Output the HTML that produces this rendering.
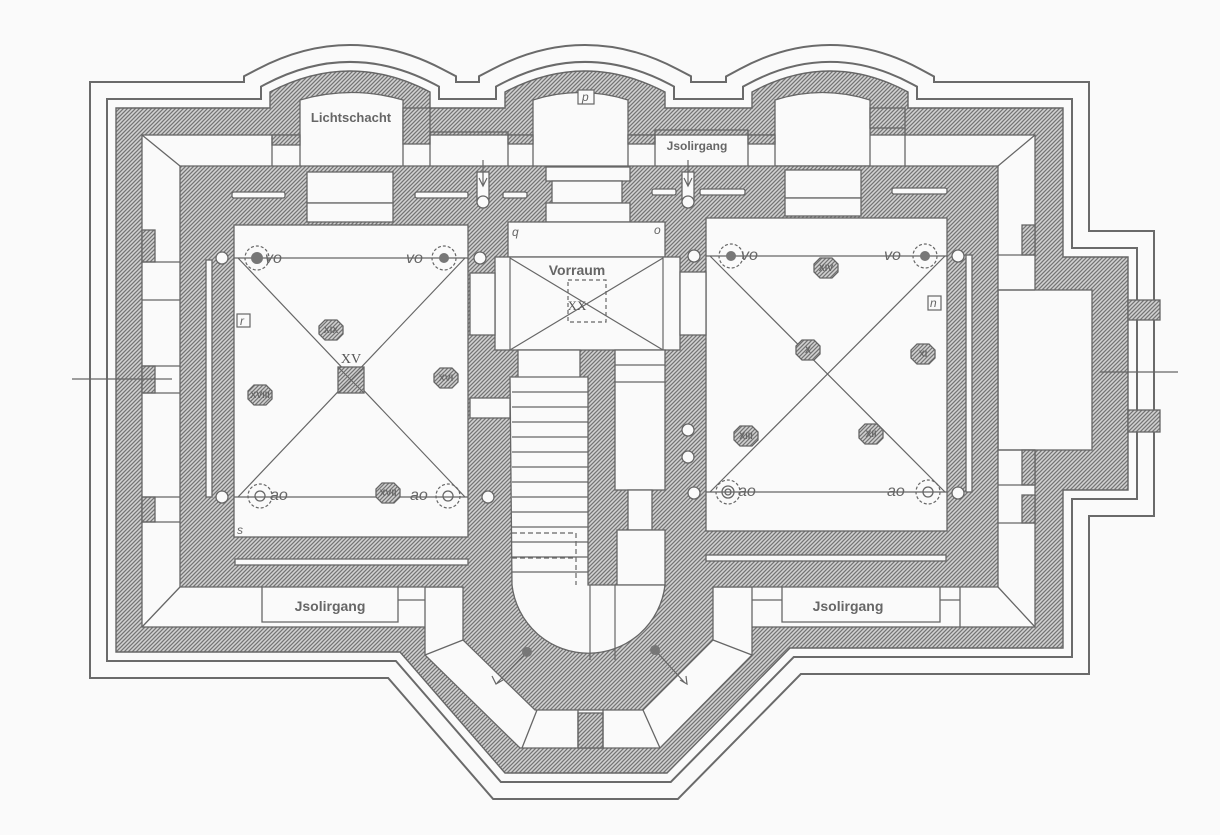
<!DOCTYPE html>
<html><head><meta charset="utf-8"><style>
html,body{margin:0;padding:0;background:#fafafa}
svg{display:block}
text{font-family:"Liberation Sans",sans-serif;fill:#666}
.s{font-family:"Liberation Serif",serif;font-style:italic}
</style></head><body>
<svg width="1220" height="835" viewBox="0 0 1220 835" xmlns="http://www.w3.org/2000/svg">
<defs>
<pattern id="h" patternUnits="userSpaceOnUse" width="4" height="4">
<rect width="4" height="4" fill="#d2d2d2"/>
<path d="M-1,1 L1,-1 M0,4 L4,0 M3,5 L5,3" stroke="#747474" stroke-width="1.3"/>
</pattern>
<path id="o" d="M116,108 L270,108 L270,92 Q350,50 430,92 L430,108 L505,108 L505,92 Q585,50 665,92 L665,108 L752,108 L752,92 Q830,50 908,92 L908,108 L1063,108 L1063,257 L1128,257 L1128,490 L1063,490 L1063,648 L790,648 L667,773 L505,773 L400,652 L116,652 Z"/>
</defs>
<rect width="1220" height="835" fill="#fafafa"/>
<g fill="none" stroke-linejoin="miter" stroke-miterlimit="10">
<use href="#o" stroke="#6a6a6a" stroke-width="54"/>
<use href="#o" stroke="#fafafa" stroke-width="50"/>
<use href="#o" stroke="#6a6a6a" stroke-width="20"/>
<use href="#o" stroke="#fafafa" stroke-width="16"/>
</g>
<use href="#o" fill="url(#h)" stroke="#666" stroke-width="1.4"/>
<g fill="url(#h)" stroke="#666" stroke-width="1.3">
<rect x="1128" y="300" width="32" height="20"/><rect x="1128" y="410" width="32" height="22"/>
</g>
<g fill="#fafafa" stroke="#666" stroke-width="1.3">
<rect x="142" y="135" width="893" height="492"/>
<path d="M300,168 L300,100 Q352,85 403,100 L403,168 Z"/>
<path d="M533,168 L533,100 Q580,85 628,100 L628,168 Z"/>
<path d="M775,166 L775,100 Q822,85 870,100 L870,166 Z"/>
<path d="M425,587 L752,587 L752,655 L660,748 L520,748 L425,655 Z"/>
<rect x="998" y="290" width="94" height="160"/>
</g>
<g fill="url(#h)" stroke="#666" stroke-width="1.3">
<path d="M180,166 L998,166 L998,587 L713,587 L713,640 L643,710 L535,710 L463,640 L463,587 L180,587 Z"/>
<rect x="272" y="135" width="28" height="10"/><rect x="403" y="108" width="27" height="36"/>
<rect x="508" y="135" width="25" height="9"/><rect x="628" y="135" width="27" height="9"/>
<rect x="748" y="135" width="27" height="9"/><rect x="870" y="108" width="35" height="20"/>
<rect x="142" y="230" width="13" height="32"/><rect x="142" y="366" width="13" height="27"/>
<rect x="142" y="497" width="13" height="25"/>
<rect x="1022" y="225" width="13" height="30"/><rect x="1022" y="450" width="13" height="35"/>
<rect x="1022" y="495" width="13" height="28"/>
<rect x="578" y="713" width="25" height="35"/>
</g>
<g stroke="#666" stroke-width="1.3" fill="none">
<path d="M142,135 L180,166 M1035,135 L998,166 M142,627 L180,587 M1035,627 L998,587"/>
<path d="M272,135 V166 M430,132 H508 V166 M430,132 V166 M655,130 H748 V166 M655,130 V166 M905,128 V166"/>
<path d="M142,262 H180 M142,300 H180 M142,366 H180 M142,393 H180 M142,497 H180 M142,522 H180"/>
<path d="M998,255 H1035 M998,290 H1035 M998,450 H1035 M998,485 H1035 M998,523 H1035"/>
<path d="M262,587 V622 H398 V587 M398,600 H425 M782,587 V622 H940 V587 M752,600 H782 M940,600 H960 M960,587 V627"/>
<path d="M425,655 L463,640 M752,655 L713,640 M537,710 L522,748 M578,710 V748 M603,710 V748 M643,710 L660,748"/>
</g>
<g fill="#fafafa" stroke="#666" stroke-width="1.3">
<rect x="234" y="225" width="234" height="312"/>
<rect x="706" y="218" width="241" height="313"/>
<rect x="307" y="172" width="86" height="31"/><rect x="307" y="203" width="86" height="19"/>
<rect x="785" y="170" width="76" height="28"/><rect x="785" y="198" width="76" height="18"/>
<rect x="546" y="167" width="84" height="14"/><rect x="552" y="181" width="70" height="22"/><rect x="546" y="203" width="84" height="19"/>
<rect x="508" y="222" width="157" height="35"/>
<rect x="495" y="257" width="185" height="93"/>
<rect x="470" y="273" width="25" height="62"/><rect x="470" y="398" width="40" height="20"/>
<rect x="680" y="272" width="26" height="63"/>
<rect x="518" y="350" width="62" height="28"/>
<rect x="615" y="350" width="50" height="140"/>
<rect x="628" y="490" width="24" height="40"/>
<rect x="617" y="530" width="48" height="55"/>
<path d="M510,377 H588 V585 H665 A77,77 0 0 1 512,585 Z"/>
<rect x="232" y="192" width="53" height="6" rx="2"/><rect x="415" y="192" width="53" height="6" rx="2"/>
<rect x="503" y="192" width="24" height="6" rx="2"/><rect x="652" y="189" width="24" height="6" rx="2"/>
<rect x="700" y="189" width="45" height="6" rx="2"/><rect x="892" y="188" width="55" height="6" rx="2"/>
<rect x="206" y="260" width="6" height="237"/><rect x="966" y="255" width="6" height="237"/>
<rect x="235" y="559" width="233" height="6"/><rect x="706" y="555" width="240" height="6"/>
<rect x="477" y="172" width="12" height="30"/><rect x="682" y="172" width="12" height="30"/>
</g>
<g stroke="#666" stroke-width="1.2" fill="none">
<path d="M510,257 V350 M663,257 V350 M510,258 L663,350 M663,258 L510,350"/>
<path d="M512,392 H588 M512,407 H588 M512,422 H588 M512,437 H588 M512,452 H588 M512,467 H588 M512,482 H588 M512,497 H588 M512,512 H588 M512,527 H588 M512,542 H588 M512,557 H588 M512,572 H588"/>
<path d="M615,365 H665 M615,382 H665 M590,585 V660 M615,585 V660"/>
<path d="M512,533 H576 V585 M512,558 H576" stroke-dasharray="5,3"/>
<rect x="568" y="280" width="38" height="42" stroke-dasharray="4,3"/>
<path d="M234,258 H468 M234,497 H468 M238,258 L465,497 M465,258 L238,497"/>
<path d="M706,256 H947 M706,492 H947 M710,256 L945,492 M945,256 L710,492"/>
<path d="M72,379 H172 M1100,372 H1178"/>
<path d="M483,160 V185 M688,160 V185"/>
<path d="M479,178 L483,186 L487,178 M684,178 L688,186 L692,178"/>
<path d="M527,652 L497,683 M655,650 L685,683 M492,676 L496,684 L503,680 M680,680 L687,684 L686,676"/>
</g>
<g fill="#fafafa" stroke="#666" stroke-width="1.3">
<circle cx="483" cy="202" r="6"/><circle cx="688" cy="202" r="6"/>
<circle cx="222" cy="258" r="6"/><circle cx="480" cy="258" r="6"/><circle cx="694" cy="256" r="6"/><circle cx="958" cy="256" r="6"/>
<circle cx="222" cy="497" r="6"/><circle cx="488" cy="497" r="6"/><circle cx="694" cy="493" r="6"/><circle cx="958" cy="493" r="6"/>
<circle cx="688" cy="430" r="6"/><circle cx="688" cy="457" r="6"/>
</g>
<g stroke="#666" stroke-width="1.2" fill="none" stroke-dasharray="3,2">
<circle cx="257" cy="258" r="12"/><circle cx="444" cy="258" r="12"/><circle cx="260" cy="496" r="12"/><circle cx="448" cy="496" r="12"/>
<circle cx="731" cy="256" r="12"/><circle cx="925" cy="256" r="12"/><circle cx="728" cy="492" r="12"/><circle cx="928" cy="492" r="12"/>
</g>
<g fill="#777">
<circle cx="257" cy="258" r="6"/><circle cx="444" cy="258" r="5"/><circle cx="731" cy="256" r="5"/><circle cx="925" cy="256" r="5"/>
<circle cx="527" cy="652" r="5"/><circle cx="655" cy="650" r="5"/>
</g>
<g fill="none" stroke="#666" stroke-width="1.3"><circle cx="260" cy="496" r="5"/><circle cx="448" cy="496" r="5"/><circle cx="728" cy="492" r="6"/><circle cx="728" cy="492" r="3"/><circle cx="928" cy="492" r="5"/></g>
<g fill="url(#h)" stroke="#666" stroke-width="1.3">
<rect x="338" y="367" width="26" height="26"/>
<path d="M325,320 h12 l6,6 v8 l-6,6 h-12 l-6,-6 v-8 z"/>
<path d="M440,368 h12 l6,6 v8 l-6,6 h-12 l-6,-6 v-8 z"/>
<path d="M254,385 h12 l6,6 v8 l-6,6 h-12 l-6,-6 v-8 z"/>
<path d="M382,483 h12 l6,6 v8 l-6,6 h-12 l-6,-6 v-8 z"/>
<path d="M820,258 h12 l6,6 v8 l-6,6 h-12 l-6,-6 v-8 z"/>
<path d="M802,340 h12 l6,6 v8 l-6,6 h-12 l-6,-6 v-8 z"/>
<path d="M917,344 h12 l6,6 v8 l-6,6 h-12 l-6,-6 v-8 z"/>
<path d="M740,426 h12 l6,6 v8 l-6,6 h-12 l-6,-6 v-8 z"/>
<path d="M865,424 h12 l6,6 v8 l-6,6 h-12 l-6,-6 v-8 z"/>
</g>
<g stroke="#666" stroke-width="1" fill="none"><path d="M338,367 L364,393 M364,367 L338,393"/></g>
<g font-family="Liberation Serif,serif" font-size="9" font-weight="bold" text-anchor="middle" style="fill:#444">
<text x="331" y="333">XIX</text><text x="446" y="381">XVI</text><text x="260" y="398">XVIII</text><text x="388" y="496">XVII</text>
<text x="826" y="271">XIV</text><text x="808" y="353">X</text><text x="923" y="357">XI</text><text x="746" y="439">XIII</text><text x="871" y="437">XII</text>
</g>
<text x="351" y="363" font-size="14" text-anchor="middle" style="font-family:'Liberation Serif',serif;fill:#555">XV</text>
<text x="577" y="310" font-size="13" text-anchor="middle" style="font-family:'Liberation Serif',serif;fill:#555">XX</text>
<g font-weight="bold" text-anchor="middle">
<text x="351" y="122" font-size="13">Lichtschacht</text>
<text x="697" y="150" font-size="12">Jsolirgang</text>
<text x="577" y="275" font-size="14">Vorraum</text>
<text x="330" y="611" font-size="14">Jsolirgang</text>
<text x="848" y="611" font-size="14">Jsolirgang</text>
</g>
<g class="s" font-size="16" style="fill:#555">
<text x="265" y="263">vo</text><text x="406" y="263">vo</text><text x="270" y="500">ao</text><text x="410" y="500">ao</text>
<text x="741" y="260">vo</text><text x="884" y="260">vo</text><text x="738" y="496">ao</text><text x="887" y="496">ao</text>
</g>
<g fill="#fafafa" stroke="#666" stroke-width="1.2"><rect x="578" y="90" width="16" height="14"/><rect x="237" y="314" width="13" height="13"/><rect x="928" y="296" width="13" height="14"/></g>
<g class="s" font-size="12" style="fill:#555">
<text x="582" y="101">p</text><text x="240" y="325">r</text><text x="930" y="307">n</text><text x="512" y="236">q</text><text x="654" y="234">o</text><text x="237" y="534">s</text>
</g>
</svg>
</body></html>
